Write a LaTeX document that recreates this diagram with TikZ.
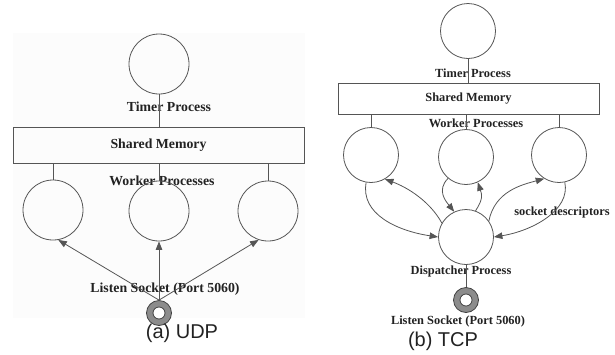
\documentclass[tikz,border=0pt]{standalone}
\usepackage{fontspec}
\setmainfont{Liberation Serif}
\newfontfamily\capfont{Liberation Sans}
\usepackage{tikz}
\usetikzlibrary{arrows.meta}
\definecolor{ink}{HTML}{222222}
\definecolor{edge}{HTML}{555555}
\definecolor{ringgray}{HTML}{8C8C8C}

\begin{document}
\begin{tikzpicture}[
  x=1pt, y=-1pt,
  proc/.style={circle, draw=edge, line width=0.8pt, inner sep=0pt, minimum size=60pt},
  procb/.style={proc, minimum size=55pt},
  shm/.style={draw=edge, line width=0.8pt, inner sep=0pt, font=\fontsize{13.8}{16}\selectfont\bfseries, text=ink},
  lbl/.style={font=\fontsize{13.8}{16}\selectfont\bfseries, text=ink, inner sep=0pt},
  lblb/.style={lbl, font=\fontsize{12.4}{14}\selectfont\bfseries},
  caption/.style={font=\capfont\fontsize{20}{24}\selectfont, text=ink, inner sep=0pt},
  ring/.style={circle, draw=black!75, line width=0.8pt, fill=ringgray, minimum size=25pt, inner sep=0pt},
  hole/.style={circle, draw=black!75, line width=0.8pt, fill=white, minimum size=12pt, inner sep=0pt},
  conn/.style={draw=edge, line width=0.8pt},
  arr/.style={conn, -{Triangle[length=8.5pt, width=6.5pt]}},
]
  \useasboundingbox (0,0) rectangle (615,354);
  \fill[black!1] (13,33) rectangle (305,318);

  % (a) UDP
  \node[proc] (timerA) at (159,64) {};
  \node[lbl] (timerAl) at (169,107) {Timer Process};
  \node[shm, minimum width=291pt, minimum height=36pt] (shmA) at (158.5,145) {Shared Memory};
  \node[lbl] (workAl) at (162,181) {Worker Processes};
  \node[proc] (workA1) at (53,210) {};
  \node[proc] (workA2) at (159,211) {};
  \node[proc] (workA3) at (268,211) {};
  \node[lbl] (sockAl) at (165,289) {Listen Socket (Port 5060)};
  \node[ring] (sockA) at (159,313) {};
  \node[hole] (sockAin) at (sockA) {};
  \node[caption] (capA) at (182,333) {(a) UDP};

  \draw[conn] (timerA.south) -- (timerA.south |- shmA.north);
  \draw[conn] (workA1.north) -- (workA1.north |- shmA.south);
  \draw[conn] (workA2.north) -- (workA2.north |- shmA.south);
  \draw[conn] (workA3.north) -- (workA3.north |- shmA.south);

  \draw[arr] (sockA.north) -- (workA1.-80);
  \draw[arr] (sockA.north) -- (workA2.south);
  \draw[arr] (sockA.north) -- (workA3.-108);

  % (b) TCP
  \node[procb] (timerB) at (468,31) {};
  \node[lblb] (timerBl) at (473,73) {Timer Process};
  \node[shm, minimum width=261pt, minimum height=31pt, font=\fontsize{12.4}{14}\selectfont\bfseries] (shmB) at (468.5,98.5) {Shared Memory};
  \node[lblb] (workBl) at (476,123) {Worker Processes};
  \node[procb] (workB1) at (371,155) {};
  \node[procb] (workB2) at (466,157) {};
  \node[procb] (workB3) at (559,155) {};
  \node[procb] (dispB) at (466,237) {};
  \node[lblb] (dispBl) at (461,272) {Dispatcher Process};
  \node[lblb] (descBl) at (562,213) {socket descriptors};
  \node[ring] (sockB) at (466,300) {};
  \node[hole] (sockBin) at (sockB) {};
  \node[lblb] (sockBl) at (458,322) {Listen Socket (Port 5060)};
  \node[caption] (capB) at (443,341) {(b) TCP};

  \draw[conn] (timerB.south) -- (timerB.south |- shmB.north);
  \draw[conn] (workB1.north) -- (workB1.north |- shmB.south);
  \draw[conn] (workB2.north) -- (workB2.north |- shmB.south);
  \draw[conn] (workB3.north) -- (workB3.north |- shmB.south);
  \draw[conn] (dispB.south) -- (sockB.north);

  \draw[arr] (workB1.-100) .. controls +(-6,32) and +(-40,-6) .. (dispB.west);
  \draw[arr] (dispB.150) .. controls +(-12,-22) and +(22,8) .. (workB1.-60);
  \draw[arr] (workB2.-130) .. controls +(-12,12) and +(-8,-10) .. (dispB.115);
  \draw[arr] (dispB.70) .. controls +(8,-12) and +(4,12) .. (workB2.-65);
  \draw[arr] (dispB.35) .. controls +(6,-30) and +(-22,6) .. (workB3.-122);
  \draw[arr] (workB3.-78) .. controls +(6,28) and +(38,-6) .. (dispB.east);

\end{tikzpicture}
\end{document}
